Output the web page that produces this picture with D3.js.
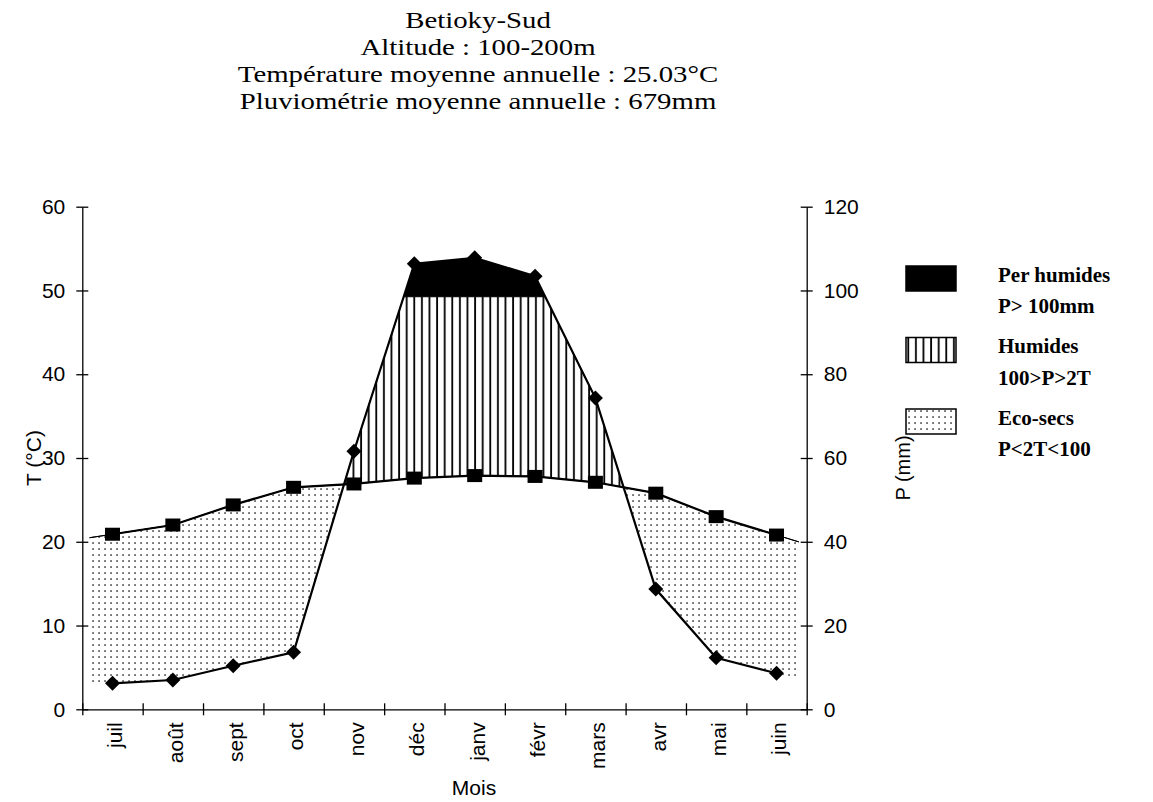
<!DOCTYPE html>
<html>
<head>
<meta charset="utf-8">
<script src="https://cdn.jsdelivr.net/npm/d3@7"></script>
<style>
  html, body { margin: 0; padding: 0; background: #fff; }
  svg { display: block; }
</style>
</head>
<body>
<svg id="chart" width="1153" height="802"></svg>
<script>
// ---------- data ----------
const titleLines = [
  "Betioky-Sud",
  "Altitude : 100-200m",
  "Température moyenne annuelle : 25.03°C",
  "Pluviométrie moyenne annuelle : 679mm"
];
const months = ["juil", "août", "sept", "oct", "nov", "déc", "janv", "févr", "mars", "avr", "mai", "juin"];
const temperatureC = [20.9, 22.0, 24.4, 26.5, 26.9, 27.6, 27.9, 27.8, 27.1, 25.8, 23.0, 20.8];
const precipitationMM = [6.2, 7.0, 10.4, 13.6, 61.6, 106.4, 107.8, 103.4, 74.3, 28.7, 12.3, 8.6];
const humidLimitMM = 98.5;
const tempTicks = [0, 10, 20, 30, 40, 50, 60];
const precipTicks = [0, 20, 40, 60, 80, 100, 120];
const legendItems = [
  { key: "per", lines: ["Per humides", "P> 100mm"] },
  { key: "hum", lines: ["Humides", "100>P>2T"] },
  { key: "eco", lines: ["Eco-secs", "P<2T<100"] }
];
const areaIndexExtent = [-0.38, 11.37];

// ---------- layout ----------
const svg = d3.select("#chart");
const plotL = 82.3, plotR = 806.7, plotT = 206.7, plotB = 709.3;
const serif = "'Liberation Serif', 'Times New Roman', serif";
const sans = "'Liberation Sans', Arial, sans-serif";
const sansSize = 21;

const xi = d3.scaleLinear().domain([-0.5, months.length - 0.5]).range([plotL, plotR]);
const yT = d3.scaleLinear().domain([0, 60]).range([plotB, plotT]);
const yP = d3.scaleLinear().domain([0, 120]).range([plotB, plotT]);

// ---------- patterns ----------
const defs = svg.append("defs");
const dots = defs.append("pattern").attr("id", "dots")
  .attr("patternUnits", "userSpaceOnUse").attr("width", 6).attr("height", 6);
dots.append("rect").attr("width", 6).attr("height", 6).attr("fill", "#fff");
dots.append("rect").attr("x", 2.3).attr("y", 2.3).attr("width", 1.5).attr("height", 1.5).attr("fill", "#222");

const vlines = defs.append("pattern").attr("id", "vlines")
  .attr("patternUnits", "userSpaceOnUse").attr("width", 7.6).attr("height", 10);
vlines.append("rect").attr("width", 7.6).attr("height", 10).attr("fill", "#fff");
vlines.append("rect").attr("x", 3).attr("y", 0).attr("width", 1.8).attr("height", 10).attr("fill", "#000");

// ---------- region computation ----------
function valAt(arr, t) {
  const n = arr.length;
  let i = Math.floor(t);
  if (i < 0) i = 0;
  if (i > n - 2) i = n - 2;
  const f = t - i;
  return arr[i] + (arr[i + 1] - arr[i]) * f;
}
const p2 = precipitationMM.map(d => yT.invert(yP(d)));
const lim2 = yT.invert(yP(humidLimitMM));

let breaks = [areaIndexExtent[0], areaIndexExtent[1]];
for (let i = 0; i < months.length; i++) breaks.push(i);
function addCross(fa, fb) {
  for (let i = 0; i < months.length - 1; i++) {
    const a0 = fa(i) - fb(i), a1 = fa(i + 1) - fb(i + 1);
    if (a0 * a1 < 0) breaks.push(i + a0 / (a0 - a1));
  }
}
const Tf = t => valAt(temperatureC, t);
const Pf = t => valAt(p2, t);
const Lf = t => lim2;
addCross(Pf, Tf);
addCross(Pf, Lf);
breaks = breaks.filter(t => t >= areaIndexExtent[0] && t <= areaIndexExtent[1]).sort((a, b) => a - b);
const samples = breaks.map(t => ({ t, T: Tf(t), P: Pf(t) }));

const gAreas = svg.append("g");
gAreas.append("path").datum(samples)
  .attr("d", d3.area().x(d => xi(d.t)).y0(d => yT(d.P)).y1(d => yT(Math.max(d.T, d.P))))
  .attr("fill", "url(#dots)");
gAreas.append("path").datum(samples)
  .attr("d", d3.area().x(d => xi(d.t)).y0(d => yT(d.T)).y1(d => yT(Math.max(d.T, Math.min(d.P, lim2)))))
  .attr("fill", "url(#vlines)").attr("stroke", "#000").attr("stroke-width", 1);
gAreas.append("path").datum(samples)
  .attr("d", d3.area().x(d => xi(d.t)).y0(d => yT(lim2)).y1(d => yT(Math.max(lim2, d.P))))
  .attr("fill", "#000");

// ---------- axes ----------
const axisStyle = g => {
  g.select(".domain").attr("stroke", "#000").attr("stroke-width", 1.3);
  g.selectAll(".tick line").attr("stroke", "#000").attr("stroke-width", 1.3);
  g.selectAll("text").attr("font-family", sans).attr("font-size", sansSize).attr("fill", "#000");
};

const gyl = svg.append("g").attr("transform", `translate(${plotL},0)`)
  .call(d3.axisLeft(yT).tickValues(tempTicks).tickSize(6).tickSizeOuter(0).tickPadding(11))
  .call(axisStyle);
gyl.selectAll(".tick line").attr("x1", -6).attr("x2", 6);

const gyr = svg.append("g").attr("transform", `translate(${plotR},0)`)
  .call(d3.axisRight(yP).tickValues(precipTicks).tickSize(6).tickSizeOuter(0).tickPadding(11))
  .call(axisStyle);
gyr.selectAll(".tick line").attr("x1", -6).attr("x2", 6);

const gx = svg.append("g").attr("transform", `translate(0,${plotB})`)
  .call(d3.axisBottom(xi).tickValues(d3.range(-0.5, months.length, 1)).tickFormat("").tickSize(6).tickSizeOuter(0))
  .call(axisStyle);
gx.selectAll(".tick line").attr("y1", -6).attr("y2", 6);

const gxl = svg.append("g").attr("transform", `translate(0,${plotB})`)
  .call(d3.axisBottom(xi).tickValues(d3.range(months.length)).tickFormat(i => months[i]).tickSize(0))
  .call(axisStyle);
gxl.select(".domain").remove();
gxl.selectAll("text")
  .attr("transform", "rotate(-90)")
  .attr("x", -13).attr("y", 2).attr("dy", "0.35em")
  .style("text-anchor", "end");

svg.append("text").attr("transform", `translate(41,${(plotT + plotB) / 2}) rotate(-90)`)
  .attr("text-anchor", "middle").attr("font-family", sans).attr("font-size", sansSize).text("T (°C)");
svg.append("text").attr("transform", `translate(910,468) rotate(-90)`)
  .attr("text-anchor", "middle").attr("font-family", sans).attr("font-size", 20).text("P (mm)");
svg.append("text").attr("x", 474).attr("y", 795)
  .attr("text-anchor", "middle").attr("font-family", sans).attr("font-size", sansSize).text("Mois");

// ---------- lines & markers ----------
const idx = d3.range(months.length);
svg.append("path").datum(idx)
  .attr("d", d3.line().x(i => xi(i)).y(i => yT(temperatureC[i])))
  .attr("fill", "none").attr("stroke", "#000").attr("stroke-width", 2.2);
svg.append("path").datum(idx)
  .attr("d", d3.line().x(i => xi(i)).y(i => yP(precipitationMM[i])))
  .attr("fill", "none").attr("stroke", "#000").attr("stroke-width", 2.2);

svg.append("g").selectAll("rect").data(idx).join("rect")
  .attr("x", i => xi(i) - 7.5).attr("y", i => yT(temperatureC[i]) - 6.5)
  .attr("width", 15).attr("height", 13).attr("fill", "#000");
svg.append("g").selectAll("path").data(idx).join("path")
  .attr("transform", i => `translate(${xi(i)},${yP(precipitationMM[i])}) rotate(45)`)
  .attr("d", "M-5.3,-5.3H5.3V5.3H-5.3Z").attr("fill", "#000");

// ---------- title ----------
svg.append("g").attr("transform", "translate(478,0) scale(1.2,1)")
  .selectAll("text").data(titleLines).join("text")
  .attr("x", 0).attr("y", (d, i) => 28.5 + i * 26.8)
  .attr("text-anchor", "middle").attr("font-family", serif).attr("font-size", 24)
  .text(d => d);

// ---------- legend ----------
const lg = svg.append("g");
const legendFill = { per: "#000", hum: "url(#vlines)", eco: "url(#dots)" };
legendItems.forEach((item, k) => {
  const y0 = 266 + k * 71.5;
  lg.append("rect").attr("x", 906).attr("y", y0).attr("width", 50).attr("height", 25)
    .attr("fill", legendFill[item.key]).attr("stroke", "#000").attr("stroke-width", 1.5);
  item.lines.forEach((line, j) => {
    lg.append("text").attr("x", 998).attr("y", y0 + 15.5 + j * 31.5)
      .attr("font-family", serif).attr("font-weight", "bold").attr("font-size", 21)
      .text(line);
  });
});
</script>
</body>
</html>
